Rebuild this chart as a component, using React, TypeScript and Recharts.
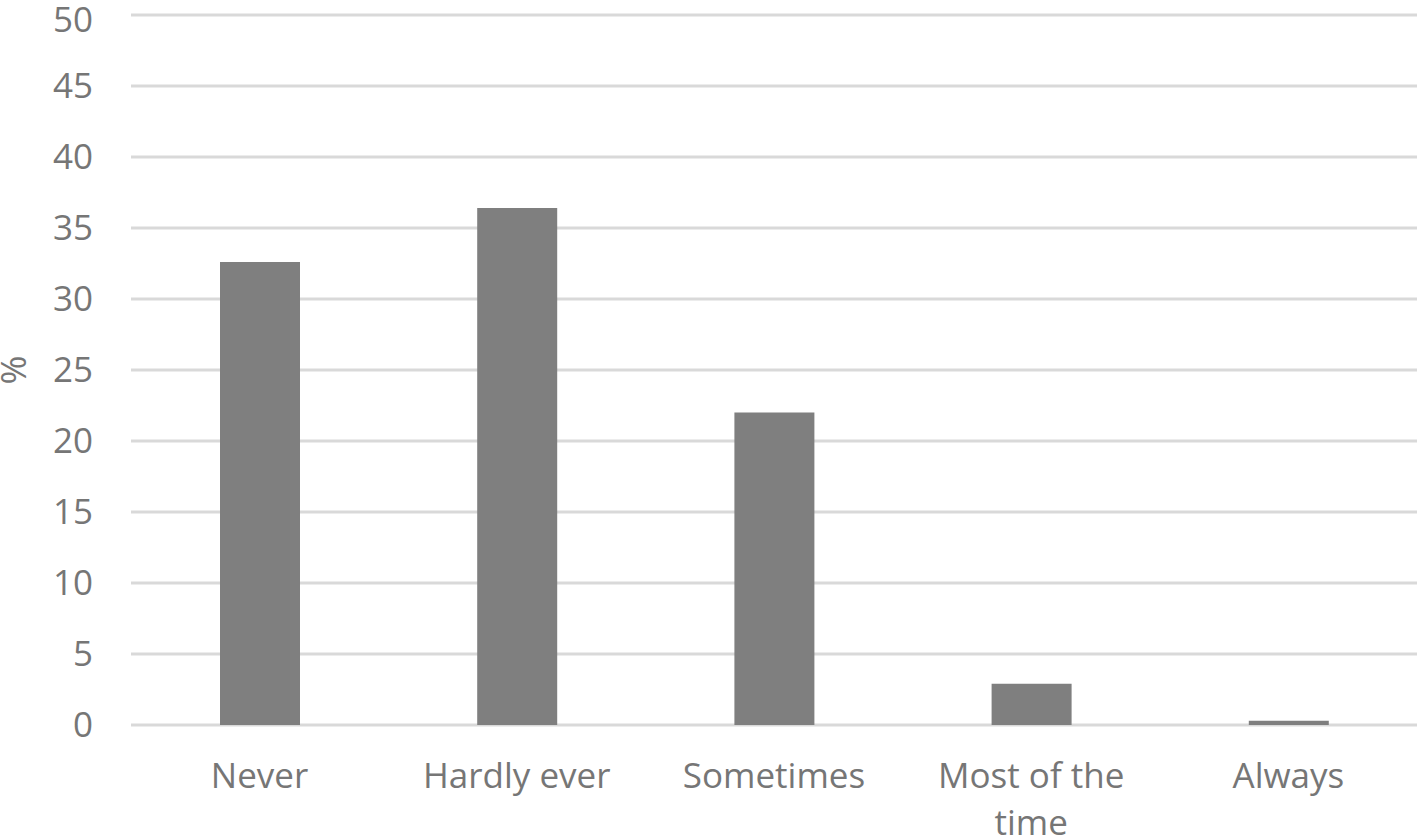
import React from "react";
import { BarChart, Bar, XAxis, YAxis, CartesianGrid } from "recharts";

const categories = ["Never", "Hardly ever", "Sometimes", "Most of the time", "Always"];
const percentValues = [32.6, 36.4, 22.0, 2.9, 0.3];
const yTicks = [0, 5, 10, 15, 20, 25, 30, 35, 40, 45, 50];
const labelLines: Record<string, string[]> = {
  "Most of the time": ["Most of the", "time"],
};

const data = categories.map((c, i) => ({ category: c, value: percentValues[i] }));

const FONT = "'Open Sans', 'Noto Sans', sans-serif";
const TEXT = "#767676";

const XTick = (props: any) => {
  const { x, y, payload } = props;
  const lines = labelLines[payload.value] || [payload.value];
  return (
    <text x={x} y={y} textAnchor="middle" fill={TEXT} fontFamily={FONT} fontSize={35}>
      {lines.map((l: string, i: number) => (
        <tspan key={i} x={x} y={y + 63 + i * 47}>
          {l}
        </tspan>
      ))}
    </text>
  );
};

const YLabel = (props: any) => {
  const { viewBox } = props;
  const cy = viewBox.y + viewBox.height / 2;
  const cx = 26;
  return (
    <text
      x={cx}
      y={cy}
      transform={`rotate(-90, ${cx}, ${cy})`}
      textAnchor="middle"
      fill={TEXT}
      fontFamily={FONT}
      fontSize={35}
    >
      %
    </text>
  );
};

export default function App() {
  return (
    <div style={{ position: "absolute", left: 0, top: 0, width: 1421, height: 837, background: "#fff" }}>
      <BarChart
        width={1421}
        height={837}
        data={data}
        margin={{ top: 15, right: 4, bottom: 12, left: 0 }}
      >
        <CartesianGrid vertical={false} stroke="#d9d9d9" strokeWidth={3} />
        <XAxis
          dataKey="category"
          axisLine={false}
          tickLine={false}
          tickSize={0}
          tickMargin={0}
          height={100}
          interval={0}
          tick={<XTick />}
        />
        <YAxis
          domain={[0, 50]}
          ticks={yTicks}
          axisLine={false}
          tickLine={false}
          tickSize={0}
          tickMargin={38}
          width={131}
          tick={{ fill: TEXT, fontFamily: FONT, fontSize: 35 }}
          label={<YLabel />}
        />
        <Bar dataKey="value" fill="#7f7f7f" barSize={80} isAnimationActive={false} />
      </BarChart>
    </div>
  );
}
